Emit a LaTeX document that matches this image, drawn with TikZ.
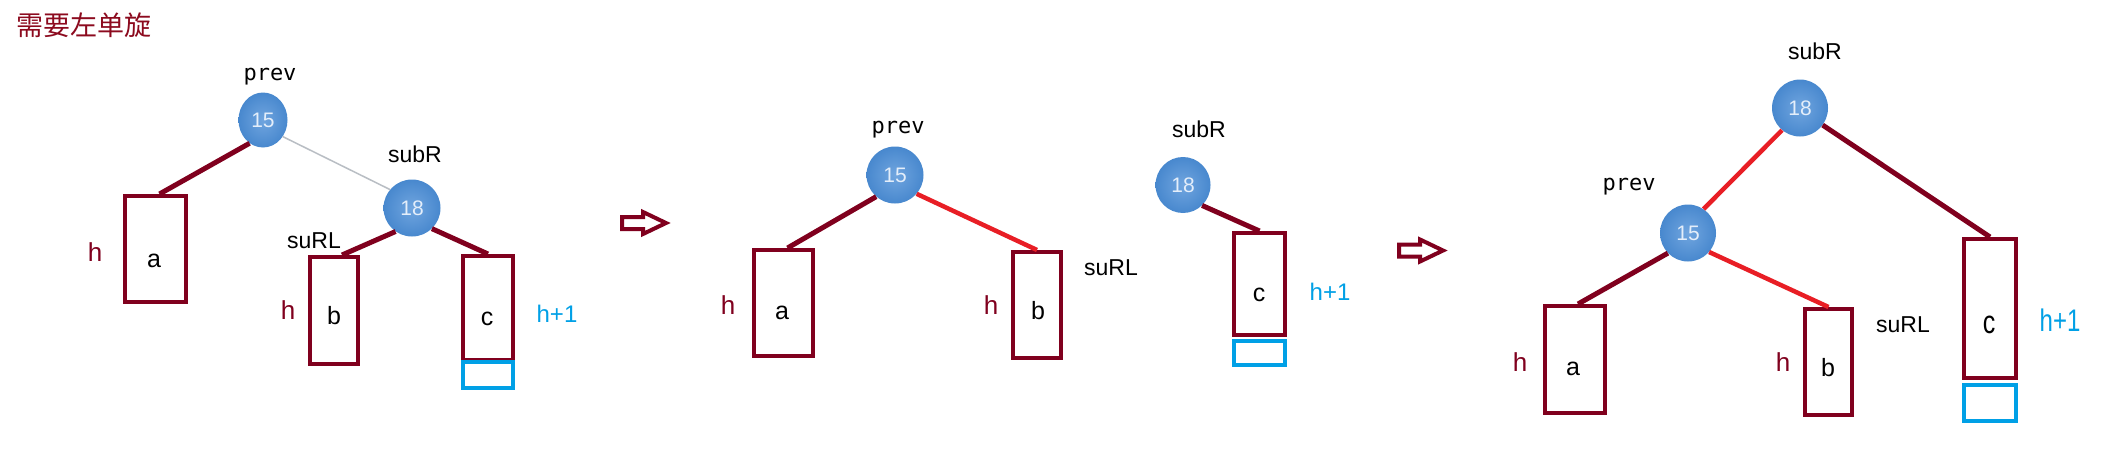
\documentclass[tikz,border=0pt]{standalone}
\usepackage{fontspec}
\setmainfont{Liberation Sans}
\newfontfamily\cjkfont{Noto Sans CJK SC}
\newfontfamily\monofont{DejaVu Sans Mono}
\usetikzlibrary{shapes.geometric}
\definecolor{dred}{RGB}{128,0,30}
\definecolor{tred}{RGB}{140,10,30}
\definecolor{bred}{RGB}{232,30,37}
\definecolor{cyanb}{RGB}{0,160,230}
\definecolor{ballin}{RGB}{112,165,223}
\definecolor{ballout}{RGB}{72,136,206}
\definecolor{balltext}{RGB}{228,238,250}
\definecolor{thinline}{RGB}{185,190,196}
\tikzset{
 ball/.style={ellipse, minimum width=57pt, minimum height=57pt, inner sep=0pt, shading=radial, inner color=ballin, outer color=ballout, text=balltext, font=\fontsize{21}{21}\selectfont},
 tbox/.style={draw=dred, line width=4pt, rectangle, inner sep=0pt},
 hbox/.style={draw=cyanb, line width=4pt, rectangle, inner sep=0pt},
 lbl/.style={anchor=base, inner sep=0pt, font=\fontsize{23}{23}\selectfont},
 plbl/.style={anchor=base, inner sep=0pt, font=\monofont\fontsize{22}{22}\selectfont},
 hl/.style={anchor=base, inner sep=0pt, text=dred, font=\fontsize{26}{26}\selectfont},
 hp/.style={anchor=base, inner sep=0pt, text=cyanb, font=\fontsize{24}{24}\selectfont},
 boxletter/.style={anchor=base, inner sep=0pt, font=\fontsize{25}{25}\selectfont},
 dline/.style={draw=dred, line width=5pt},
 rline/.style={draw=bred, line width=4.5pt},
 gline/.style={draw=thinline, line width=1.5pt},
 arrowline/.style={draw=dred, line width=4pt, line join=miter},
}
\newcommand\hollowarrow[1]{\draw[arrowline,shift={#1}] (0,-6) -- (21,-6) -- (21,-11) -- (44,0) -- (21,11) -- (21,6) -- (0,6) -- cycle;}
\begin{document}
\begin{tikzpicture}[x=1pt,y=-1pt]
\fill[white] (0,0) rectangle (2102,466);
\useasboundingbox (0,0) rectangle (2102,466);
% title
\node[anchor=base west, inner sep=0pt, text=tred, font=\cjkfont\fontsize{27}{27}\selectfont] (title) at (16,35) {需要左单旋};

% ---------- panel 1 ----------
\node[plbl] (p1prev) at (270,80) {prev};
\node[ball, minimum width=49pt, minimum height=55pt] (p1n15) at (263,120) {15};
\node[lbl] (p1subR) at (415,162) {subR};
\node[ball] (p1n18) at (412,208) {18};
\node[lbl] (p1suRL) at (314,248) {suRL};
\node[tbox, minimum width=61pt, minimum height=106pt] (p1a) at (155.5,249) {};
\node[tbox, minimum width=48pt, minimum height=107pt] (p1b) at (334,310.5) {};
\node[tbox, minimum width=50pt, minimum height=104pt] (p1c) at (488,308) {};
\node[hbox, minimum width=50pt, minimum height=26pt] (p1x) at (488,375) {};
\node[boxletter] (p1la) at (154,267) {a};
\node[boxletter] (p1lb) at (334,324) {b};
\node[boxletter] (p1lc) at (487,325) {c};
\node[hl] (p1ha) at (95,261) {h};
\node[hl] (p1hb) at (288,319) {h};
\node[hp] (p1hc) at (557,322) {h+1};
\draw[dline] (p1n15.240) -- ([xshift=4pt]p1a.north);
\draw[gline] (p1n15.320) -- (p1n18.140);
\draw[dline] (p1n18.235) -- ([xshift=8pt]p1b.north);
\draw[dline] (p1n18.314) -- (p1c.north);

\hollowarrow{(622,223)}

% ---------- panel 2 ----------
\node[plbl] (p2prev) at (898,133) {prev};
\node[ball] (p2n15) at (895,175) {15};
\node[lbl] (p2subR) at (1199,137) {subR};
\node[ball, minimum width=55pt, minimum height=56pt] (p2n18) at (1183,185) {18};
\node[tbox, minimum width=59pt, minimum height=106pt] (p2a) at (783.5,303) {};
\node[tbox, minimum width=48pt, minimum height=106pt] (p2b) at (1037,305) {};
\node[tbox, minimum width=51pt, minimum height=102pt] (p2c) at (1259.5,284) {};
\node[hbox, minimum width=51pt, minimum height=24pt] (p2x) at (1259.5,353) {};
\node[boxletter] (p2la) at (782,319) {a};
\node[boxletter] (p2lb) at (1038,319) {b};
\node[boxletter] (p2lc) at (1259,301) {c};
\node[hl] (p2ha) at (728,314) {h};
\node[hl] (p2hb) at (991,314) {h};
\node[hp] (p2hc) at (1330,300) {h+1};
\node[lbl] (p2suRL) at (1111,275) {suRL};
\draw[dline] (p2n15.229) -- ([xshift=4pt]p2a.north);
\draw[rline] (p2n15.319) -- (p2b.north);
\draw[dline] (p2n18.313) -- (p2c.north);

\hollowarrow{(1399,250.5)}

% ---------- panel 3 ----------
\node[lbl] (p3subR) at (1815,59) {subR};
\node[ball, minimum width=56pt] (p3n18) at (1800,108) {18};
\node[plbl] (p3prev) at (1629,190) {prev};
\node[ball, minimum width=56pt] (p3n15) at (1688,233) {15};
\node[tbox, minimum width=60pt, minimum height=107pt] (p3a) at (1575,359.5) {};
\node[tbox, minimum width=47pt, minimum height=106pt] (p3b) at (1828.5,362) {};
\node[tbox, minimum width=52pt, minimum height=139pt] (p3c) at (1990,308.5) {};
\node[hbox, minimum width=52pt, minimum height=36pt] (p3x) at (1990,403) {};
\node[boxletter] (p3la) at (1573,375) {a};
\node[boxletter] (p3lb) at (1828,376) {b};
\node[boxletter] (p3lc) at (1989,333) {\scalebox{1}[1.3]{c}};
\node[hl] (p3ha) at (1520,371) {h};
\node[hl] (p3hb) at (1783,371) {h};
\node[hp] (p3hc) at (2060,331) {\scalebox{1}[1.3]{h+1}};
\node[lbl] (p3suRL) at (1903,332) {suRL};
\draw[rline] (p3n18.231) -- (p3n15.57);
\draw[dline] (p3n18.323) -- (p3c.north);
\draw[dline] (p3n15.225) -- ([xshift=3pt]p3a.north);
\draw[rline] (p3n15.318) -- (p3b.north);
\end{tikzpicture}
\end{document}
